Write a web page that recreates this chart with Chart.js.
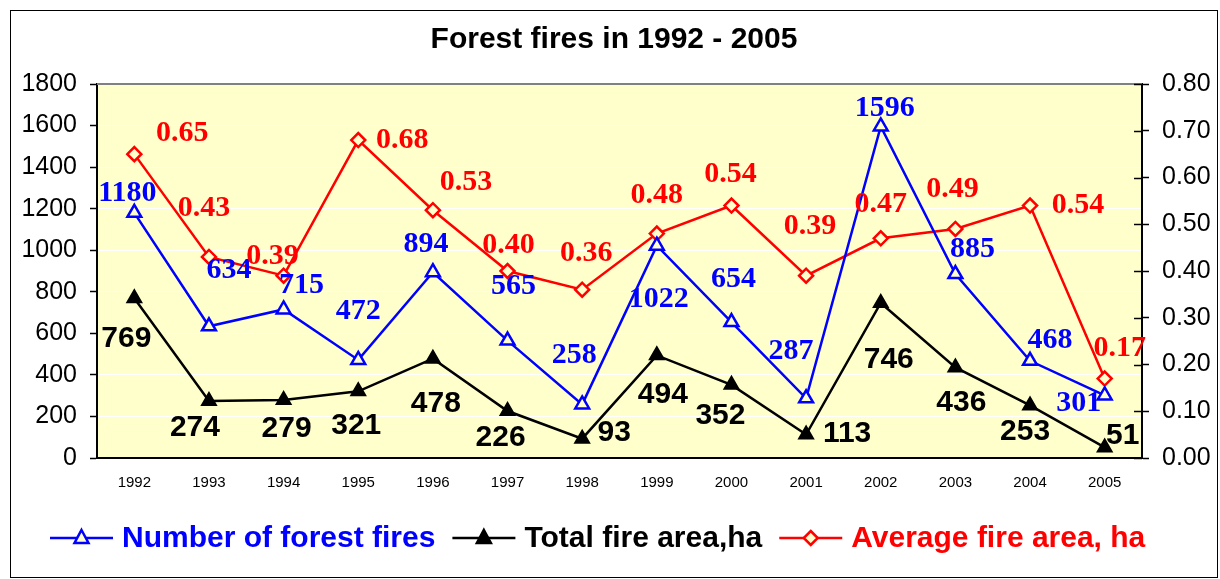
<!DOCTYPE html>
<html>
<head>
<meta charset="utf-8">
<title>Forest fires in 1992 - 2005</title>
<script src="https://cdn.jsdelivr.net/npm/chart.js@4.4.1/dist/chart.umd.min.js"></script>
<style>
  html, body { margin: 0; padding: 0; background: #fff; }
  #wrap { width: 1220px; height: 579px; }
</style>
</head>
<body>
<div id="wrap"><canvas id="fireChart" width="1220" height="579"></canvas></div>
<script>
// Chart data
const years = ['1992', '1993', '1994', '1995', '1996', '1997', '1998', '1999', '2000', '2001', '2002', '2003', '2004', '2005'];
const fireCount = [1180, 634, 715, 472, 894, 565, 258, 1022, 654, 287, 1596, 885, 468, 301];
const totalArea = [769, 274, 279, 321, 478, 226, 93, 494, 352, 113, 746, 436, 253, 51];
const avgArea = [0.65, 0.43, 0.39, 0.68, 0.53, 0.40, 0.36, 0.48, 0.54, 0.39, 0.47, 0.49, 0.54, 0.17];

// Where each value label sits relative to its point (px)
const countLabelOffset = [[-7,-20],[20,-56],[18,-24],[0,-49],[-7,-28],[6,-54],[-8,-49],[2,54],[2,-43],[-15,-47],[4,-18],[17,-25],[20,-21],[-26,8]];
const areaLabelOffset = [[-8,41],[-14,27],[3,29],[-2,34],[3,45],[-7,27],[32,-6],[6,39],[-11,31],[41,-1],[8,57],[6,35],[-5,26],[18,-12]];
const avgLabelOffset = [[48,-21],[-5,-49],[-11,-19],[44,0],[33,-28],[1,-26],[4,-36],[0,-38],[-1,-31],[4,-49],[0,-34],[-3,-40],[48,0],[15,-30]];

const SANS = "Arial, 'Liberation Sans', sans-serif";
const SERIF = "'Times New Roman', 'Liberation Serif', serif";
const PLOT_BG = '#FFFFCC';

Chart.defaults.font.family = SANS;
Chart.defaults.color = '#000';

// yellow plot area, outer frame, grey top edge and inner ticks on the right axis
const plotBackground = {
    id: 'plotBackground',
    beforeDraw(chart) {
        const { ctx, chartArea: a } = chart;
        ctx.save();
        ctx.fillStyle = '#fff';
        ctx.fillRect(0, 0, chart.width, chart.height);
        ctx.strokeStyle = '#000';
        ctx.lineWidth = 1;
        ctx.strokeRect(10.5, 10.5, 1207, 567);
        ctx.fillStyle = PLOT_BG;
        ctx.fillRect(a.left, a.top, a.right - a.left, a.bottom - a.top);
        ctx.restore();
    },
    beforeDatasetsDraw(chart) {
        const { ctx, chartArea: a } = chart;
        ctx.save();
        ctx.strokeStyle = '#808080';
        ctx.lineWidth = 2;
        ctx.beginPath();
        ctx.moveTo(a.left, a.top);
        ctx.lineTo(a.right, a.top);
        ctx.stroke();
        const y1 = chart.scales.y1;
        ctx.strokeStyle = '#000';
        ctx.lineWidth = 1.5;
        y1.ticks.forEach(function (t) {
            const y = Math.round(y1.getPixelForValue(t.value)) + 0.5;
            ctx.beginPath();
            ctx.moveTo(a.right - 8, y);
            ctx.lineTo(a.right, y);
            ctx.stroke();
        });
        ctx.restore();
    }
};

// value labels next to each point
const valueLabels = {
    id: 'valueLabels',
    afterDatasetsDraw(chart) {
        const { ctx } = chart;
        const setups = [
            { offsets: countLabelOffset, font: 'bold 30px ' + SERIF, color: '#0000FF', fmt: v => String(v) },
            { offsets: areaLabelOffset, font: 'bold 30px ' + SANS, color: '#000000', fmt: v => String(v) },
            { offsets: avgLabelOffset, font: 'bold 30px ' + SERIF, color: '#FF0000', fmt: v => v.toFixed(2) }
        ];
        ctx.save();
        ctx.textAlign = 'center';
        ctx.textBaseline = 'middle';
        chart.data.datasets.forEach(function (ds, i) {
            const s = setups[i];
            ctx.font = s.font;
            ctx.fillStyle = s.color;
            chart.getDatasetMeta(i).data.forEach(function (pt, j) {
                const off = s.offsets[j];
                ctx.fillText(s.fmt(ds.data[j]), pt.x + off[0], pt.y + off[1]);
            });
        });
        ctx.restore();
    }
};

// legend with line + marker samples, text coloured like the series
function drawMarker(ctx, style, x, y, fill, stroke) {
    ctx.beginPath();
    if (style === 'triangle') {
        ctx.moveTo(x, y - 8);
        ctx.lineTo(x + 7, y + 5);
        ctx.lineTo(x - 7, y + 5);
    } else {
        ctx.moveTo(x, y - 7);
        ctx.lineTo(x + 7, y);
        ctx.lineTo(x, y + 7);
        ctx.lineTo(x - 7, y);
    }
    ctx.closePath();
    ctx.fillStyle = fill;
    ctx.fill();
    ctx.strokeStyle = stroke;
    ctx.lineWidth = 2.5;
    ctx.stroke();
}

const lineLegend = {
    id: 'lineLegend',
    afterDraw(chart) {
        const { ctx } = chart;
        const y = 538;
        let x = 50;
        ctx.save();
        ctx.font = 'bold 30px ' + SANS;
        ctx.textBaseline = 'middle';
        chart.data.datasets.forEach(function (ds) {
            ctx.strokeStyle = ds.borderColor;
            ctx.lineWidth = 2.5;
            ctx.beginPath();
            ctx.moveTo(x, y);
            ctx.lineTo(x + 63, y);
            ctx.stroke();
            drawMarker(ctx, ds.pointStyle, x + 31.5, y, ds.pointBackgroundColor, ds.borderColor);
            x += 72;
            ctx.fillStyle = ds.borderColor;
            ctx.fillText(ds.label, x, y + 1);
            x += ctx.measureText(ds.label).width + 17;
        });
        ctx.restore();
    }
};

const ctx = document.getElementById('fireChart').getContext('2d');
const fireChart = new Chart(ctx, {
    type: 'line',
    data: {
        labels: years,
        datasets: [{
            label: 'Number of forest fires',
            data: fireCount,
            yAxisID: 'y',
            borderColor: '#0000FF',
            borderWidth: 2.5,
            pointStyle: 'triangle',
            pointRadius: 8,
            pointBorderWidth: 2.5,
            pointBorderColor: '#0000FF',
            pointBackgroundColor: PLOT_BG,
            tension: 0
        }, {
            label: 'Total fire area,ha',
            data: totalArea,
            yAxisID: 'y',
            borderColor: '#000000',
            borderWidth: 2.5,
            pointStyle: 'triangle',
            pointRadius: 8,
            pointBorderWidth: 2,
            pointBorderColor: '#000000',
            pointBackgroundColor: '#000000',
            tension: 0
        }, {
            label: 'Average fire area, ha',
            data: avgArea,
            yAxisID: 'y1',
            borderColor: '#FF0000',
            borderWidth: 2.5,
            pointStyle: 'rectRot',
            pointRadius: 7,
            pointBorderWidth: 2.5,
            pointBorderColor: '#FF0000',
            pointBackgroundColor: PLOT_BG,
            tension: 0
        }]
    },
    options: {
        responsive: false,
        animation: false,
        layout: { padding: { top: 10, left: 16, right: 8, bottom: 87 } },
        plugins: {
            legend: { display: false },
            tooltip: { enabled: false },
            title: {
                display: true,
                text: 'Forest fires in 1992 - 2005',
                color: '#000',
                font: { size: 30, weight: 'bold' },
                padding: { top: 12, bottom: 26 }
            }
        },
        scales: {
            x: {
                offset: true,
                grid: { display: false, drawTicks: false },
                border: { display: true, color: '#000', width: 2 },
                ticks: { color: '#000', font: { size: 15 }, padding: 16, maxRotation: 0, autoSkip: false },
                afterFit(scale) { scale.height = 34; }
            },
            y: {
                position: 'left',
                min: 0,
                max: 1800,
                ticks: { stepSize: 200, color: '#000', font: { size: 25 }, padding: 13, callback: v => String(v) },
                grid: { color: '#FFFFFF', lineWidth: 1, tickColor: '#000', tickLength: 7, tickWidth: 1.5 },
                border: { color: '#000', width: 2 },
                afterFit(scale) { scale.width = 81; }
            },
            y1: {
                position: 'right',
                min: 0,
                max: 0.8,
                ticks: { stepSize: 0.1, color: '#000', font: { size: 25 }, padding: 13, callback: v => v.toFixed(2) },
                grid: { drawOnChartArea: false, tickColor: '#000', tickLength: 7, tickWidth: 1.5 },
                border: { color: '#000', width: 2 },
                afterFit(scale) { scale.width = 70; }
            }
        }
    },
    plugins: [plotBackground, valueLabels, lineLegend]
});
</script>
</body>
</html>
